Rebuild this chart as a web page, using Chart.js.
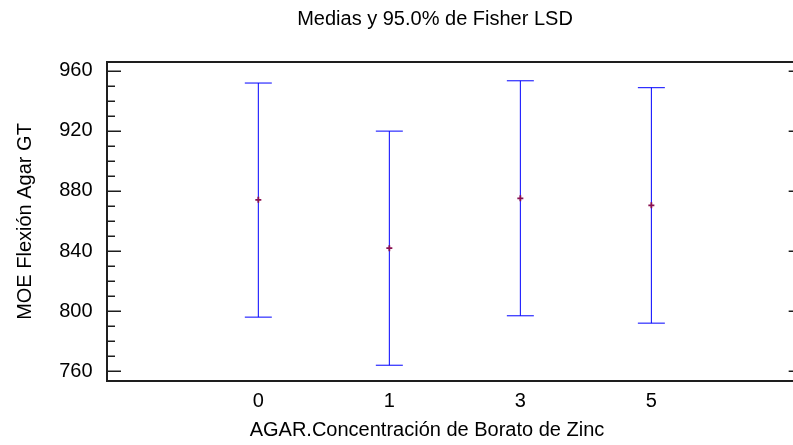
<!DOCTYPE html>
<html>
<head>
<meta charset="utf-8">
<script src="https://cdn.jsdelivr.net/npm/chart.js@4.4.1/dist/chart.umd.min.js"></script>
<style>
  html, body { margin: 0; padding: 0; background: #ffffff; overflow: hidden; }
  #wrap { width: 793px; height: 445px; overflow: hidden; position: relative; }
  #c { position: absolute; left: 0; top: 0; }
</style>
</head>
<body>
<div id="wrap"><canvas id="c" width="870" height="445"></canvas></div>
<script>
// ---- data ----
const categories = ['0', '1', '3', '5'];
const means = [874.1, 841.9, 875.1, 870.4];
const lowerLimits = [796.0, 764.0, 796.9, 792.0];
const upperLimits = [951.8, 919.8, 953.3, 948.7];
const yTickValues = [760, 800, 840, 880, 920, 960];

const titleText = 'Medias y 95.0% de Fisher LSD';
const xAxisTitle = 'AGAR.Concentración de Borato de Zinc';
const yAxisTitle = 'MOE Flexión Agar GT';

// ---- view settings ----
const X_PAD = 1.155;             // space between frame and first/last group
const X_MIN = -X_PAD;
const X_MAX = 3.73;
const FRAME_RIGHT = (categories.length - 1) + X_PAD;
const Y_MIN = 753.5, Y_MAX = 965.8, MINOR_STEP = 10;
const FONT = "'Liberation Sans', Arial, sans-serif";

Chart.defaults.font.family = FONT;
Chart.defaults.color = '#000000';

const meanPoints = means.map((m, i) => ({ x: i, y: m }));
const barSets = categories.map((c, i) => ({
  label: 'LSD ' + c,
  data: [{ x: i, y: lowerLimits[i] }, { x: i, y: upperLimits[i] }],
  showLine: true,
  borderColor: '#0000ff',
  borderWidth: 1,
  pointStyle: 'line',
  pointRadius: 13.5,
  pointBorderColor: '#0000ff',
  pointBorderWidth: 1,
  pointHoverRadius: 13.5
}));

const framePlugin = {
  id: 'frame',
  afterDraw(chart) {
    const { ctx, chartArea } = chart;
    const xs = chart.scales.x, ys = chart.scales.y;
    const left = chartArea.left, top = chartArea.top, bottom = chartArea.bottom;
    const right = xs.getPixelForValue(FRAME_RIGHT);
    ctx.save();
    ctx.strokeStyle = '#1e1e1e';
    ctx.lineWidth = 2;
    ctx.beginPath();
    ctx.moveTo(right, top); ctx.lineTo(left, top); ctx.lineTo(left, bottom); ctx.lineTo(right, bottom); ctx.lineTo(right, top);
    ctx.stroke();
    ctx.lineWidth = 1.5;
    ctx.beginPath();
    for (let v = yTickValues[0]; v <= yTickValues[yTickValues.length - 1]; v += MINOR_STEP) {
      const y = Math.round(ys.getPixelForValue(v)) + 0.25;
      const major = yTickValues.includes(v);
      ctx.moveTo(left, y); ctx.lineTo(left + (major ? 14 : 8), y);
      if (major) { ctx.moveTo(right, y); ctx.lineTo(right - 14, y); }
    }
    ctx.stroke();
    ctx.restore();
  }
};

new Chart(document.getElementById('c'), {
  type: 'scatter',
  data: {
    datasets: [
      {
        label: 'Media',
        data: meanPoints,
        pointStyle: 'cross',
        pointRadius: 3,
        pointBorderWidth: 1.8,
        pointBorderColor: '#8a1050',
        pointBackgroundColor: '#8a1050',
        showLine: false
      },
      ...barSets
    ]
  },
  options: {
    responsive: false,
    animation: false,
    events: [],
    layout: { padding: 0 },
    plugins: {
      legend: { display: false },
      tooltip: { enabled: false },
      title: {
        display: true,
        text: titleText,
        color: '#000000',
        font: { size: 20, weight: 'normal', family: FONT },
        padding: { top: 7.7, bottom: 30.3 }
      }
    },
    scales: {
      x: {
        type: 'linear',
        min: X_MIN,
        max: X_MAX,
        afterBuildTicks(scale) { scale.ticks = categories.map((c, i) => ({ value: i })); },
        afterFit(scale) { scale.height = 64; },
        grid: { display: false, drawTicks: false },
        border: { display: false },
        ticks: {
          autoSkip: false,
          maxRotation: 0,
          padding: 8,
          font: { size: 20 },
          callback: (v) => categories[v]
        },
        title: {
          display: true,
          text: xAxisTitle,
          font: { size: 20 },
          padding: { top: 0, bottom: 3 }
        }
      },
      y: {
        type: 'linear',
        min: Y_MIN,
        max: Y_MAX,
        afterBuildTicks(scale) { scale.ticks = yTickValues.map(v => ({ value: v })); },
        afterFit(scale) { scale.width = 107; },
        grid: { display: false, drawTicks: false },
        border: { display: false },
        ticks: { padding: 14.5, font: { size: 20 } },
        title: {
          display: true,
          text: yAxisTitle,
          font: { size: 20 },
          padding: { top: 13, bottom: 0 }
        }
      },
      y2: {
        type: 'linear',
        position: 'right',
        afterFit(scale) { scale.width = 123; },
        grid: { display: false, drawTicks: false },
        border: { display: false },
        ticks: { display: false }
      }
    }
  },
  plugins: [framePlugin]
});
</script>
</body>
</html>
